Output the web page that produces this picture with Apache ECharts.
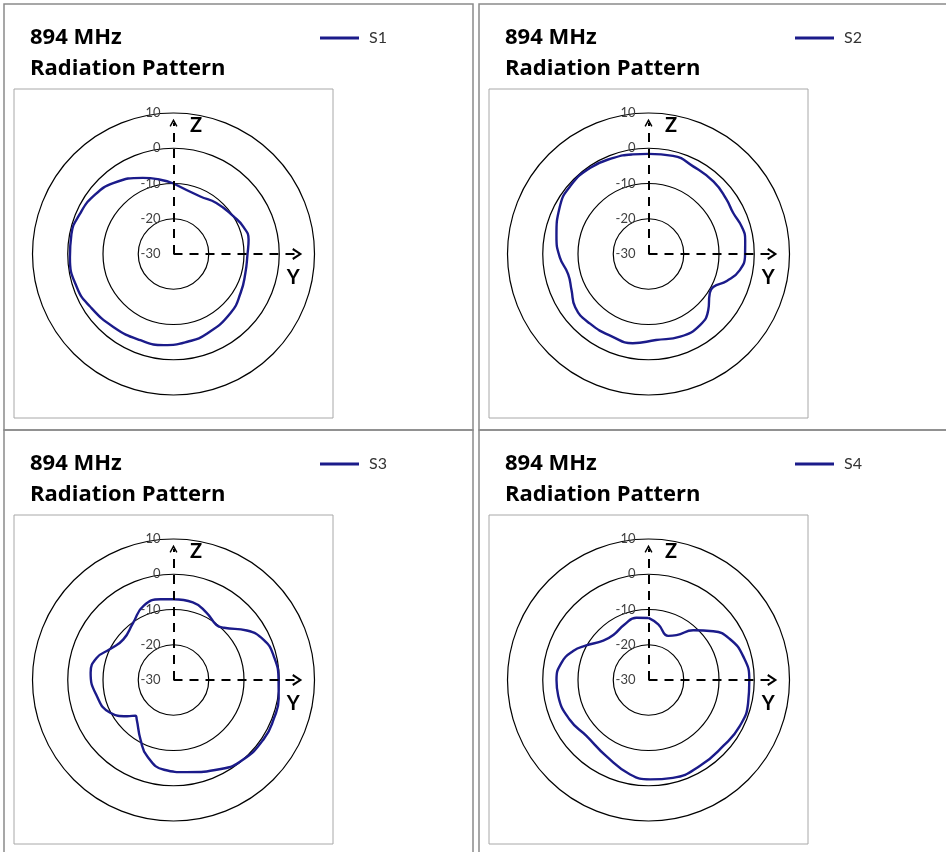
<!DOCTYPE html>
<html><head><meta charset="utf-8">
<script src="https://cdn.jsdelivr.net/npm/echarts@6/dist/echarts.min.js"></script>
<style>html,body{margin:0;padding:0;background:#fff}#c{width:946px;height:852px}</style>
</head><body><div id="c"></div><script>
// ---- data (angle in degrees, clockwise from +Z; gain in dB) ----
const seriesNames = ['S1', 'S2', 'S3', 'S4'];
const titleText = '894 MHz\nRadiation Pattern';
const radiusMin = -30, radiusMax = 10, radiusStep = 10;

const s1Angles = [0, 25, 40, 58, 69, 79, 90, 105, 120, 136, 157, 171, 186, 201, 219, 238, 251, 268, 281, 293, 306, 320, 338, 350];
const s1Values = [-10.0, -12.0, -11.1, -9.9, -8.7, -8.3, -9.0, -8.9, -8.0, -6.7, -5.5, -4.8, -4.0, -3.8, -3.2, -2.0, -1.0, -0.6, -0.5, -1.1, -2.0, -3.7, -6.7, -8.6];

const s2Angles = [0, 14, 27, 42, 55, 64, 74, 82, 90, 100, 109, 117, 123, 133, 144, 159, 175, 190, 203, 220, 234, 245, 256, 268, 281, 298, 311, 326, 340, 351];
const s2Values = [-1.6, -1.3, -2.1, -2.4, -3.0, -3.3, -2.4, -2.3, -2.6, -3.7, -6.5, -9.4, -9.3, -6.8, -5.1, -4.9, -5.5, -4.3, -4.4, -4.2, -4.3, -5.9, -6.5, -4.8, -3.4, -1.5, -0.6, -0.5, -1.0, -1.4];

const s3Angles = [0, 14, 26, 38, 44, 56, 66, 76, 90, 100, 111, 123, 139, 152, 172, 186, 199, 209, 223, 227, 232, 243, 258, 275, 286, 296, 309, 325, 338, 351];
const s3Values = [-7.1, -7.3, -8.7, -10.2, -9.4, -4.9, -2.0, -0.8, -0.2, 0.3, 0.5, 0.6, 0.0, -1.4, -3.6, -4.4, -7.1, -10.7, -14.7, -15.2, -13.3, -9.7, -7.8, -6.4, -7.3, -10.0, -11.7, -10.1, -7.3, -6.8];

const s4Angles = [0, 10, 24, 32, 42, 53, 63, 76, 90, 103, 117, 131, 149, 166, 179, 191, 209, 228, 243, 260, 270, 281, 291, 299, 311, 322, 337, 349];
const s4Values = [-12.4, -14.0, -16.3, -15.0, -11.0, -7.0, -4.2, -2.3, -1.4, -1.0, -1.0, -1.7, -1.6, -1.4, -1.8, -2.7, -5.3, -6.3, -5.0, -4.0, -3.9, -4.8, -7.1, -9.8, -13.0, -13.8, -12.8, -12.0];

const allAngles = [s1Angles, s2Angles, s3Angles, s4Angles];
const allValues = [s1Values, s2Values, s3Values, s4Values];

// ---- layout ----
const panels = [
  { x: 0, y: 0 }, { x: 475, y: 0 }, { x: 0, y: 426 }, { x: 475, y: 426 }
];
const FONT = 'Lato, "Open Sans", sans-serif';
const TITLE_FONT = '"Open Sans", Lato, sans-serif';
const LINE_COLOR = '#1b1b8a';
const chevron = 'path://M0,9 L5,0 L10,9 L8.4,10 L5,3.6 L1.6,10 Z';

function buildData(angles, values) {
  const d = angles.map((a, i) => [values[i], a]);
  d.push([values[0], angles[0] + 360]);
  return d;
}

const option = {
  animation: false,
  backgroundColor: '#fff',
  title: panels.map(p => ({
    text: titleText, left: p.x + 25, top: p.y + 17,
    textStyle: { fontFamily: TITLE_FONT, fontSize: 22, fontWeight: 'bold', color: '#000', lineHeight: 31 }
  })),
  legend: panels.map((p, i) => ({
    data: [seriesNames[i]], left: p.x + 315, top: p.y + 25,
    itemWidth: 39, itemHeight: 14, icon: 'path://M0,5.5 L39,5.5 L39,8.5 L0,8.5 Z',
    textStyle: { fontFamily: FONT, fontSize: 16, color: '#333', padding: [0, 0, 0, 5] },
    selectedMode: false
  })),
  polar: panels.map(p => ({ center: [p.x + 173.5, p.y + 254], radius: [0, 141] })),
  angleAxis: panels.map((p, i) => ({
    polarIndex: i, type: 'value', min: 0, max: 360, startAngle: 90, clockwise: true,
    axisLine: { show: false }, axisTick: { show: false }, axisLabel: { show: false }, splitLine: { show: false }
  })),
  radiusAxis: panels.map((p, i) => ({
    polarIndex: i, type: 'value', min: radiusMin, max: radiusMax, interval: radiusStep,
    axisLine: { show: false }, axisTick: { show: false },
    axisLabel: { show: true, margin: 13, color: '#404040', fontSize: 13, fontFamily: FONT },
    splitLine: { show: true, lineStyle: { color: '#000', width: 1.2 } }
  })),
  graphic: [
    ...panels.map(p => ({ type: 'rect', silent: true, z: -10,
      shape: { x: p.x + 4, y: p.y + 4, width: 469, height: 426 },
      style: { fill: 'none', stroke: '#8a8a8a', lineWidth: 1.5 } })),
    ...panels.map(p => ({ type: 'rect', silent: true, z: -10,
      shape: { x: p.x + 14, y: p.y + 89, width: 319, height: 329 },
      style: { fill: 'none', stroke: '#a8a8a8', lineWidth: 1 } }))
  ],
  series: seriesNames.map((name, i) => ({
    name, type: 'line', coordinateSystem: 'polar', polarIndex: i,
    data: buildData(allAngles[i], allValues[i]),
    smooth: 0.5, symbol: 'none', showSymbol: false,
    lineStyle: { color: LINE_COLOR, width: 2.4 }, itemStyle: { color: LINE_COLOR },
    silent: true,
    markLine: {
      silent: true, animation: false,
      label: { show: false },
      lineStyle: { color: '#000', width: 2, type: [9, 7] },
      itemStyle: { color: '#000' },
      emphasis: { disabled: true },
      data: [
        [{ coord: [radiusMin, 0], symbol: 'none' }, { coord: [7.2, 0], symbol: chevron, symbolSize: [8, 8] }],
        [{ coord: [radiusMin, 90], symbol: 'none' }, { coord: [5.1, 90], symbol: chevron, symbolSize: [12, 10] }]
      ]
    },
    markPoint: {
      silent: true, animation: false,
      symbol: 'rect', symbolSize: 1, itemStyle: { color: 'rgba(0,0,0,0)' },
      label: { show: true, position: 'inside', color: '#000', fontFamily: FONT, fontWeight: 'bold', fontSize: 20 },
      data: [
        { coord: [7.0, 10], label: { formatter: 'Z' } },
        { coord: [4.6, 101], label: { formatter: 'Y' } }
      ]
    }
  }))
};
const chart = echarts.init(document.getElementById('c'), null, { renderer: 'canvas' });
chart.setOption(option);
</script></body></html>
